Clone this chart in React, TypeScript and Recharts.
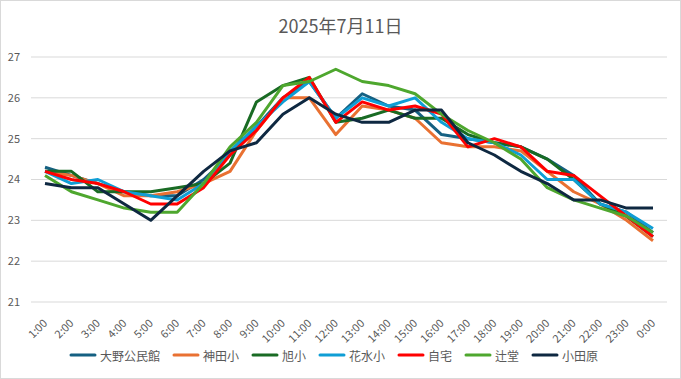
import React from 'react';
import { LineChart, Line, XAxis, YAxis, CartesianGrid, Legend } from 'recharts';

const hours = ['1:00','2:00','3:00','4:00','5:00','6:00','7:00','8:00','9:00','10:00','11:00','12:00','13:00','14:00','15:00','16:00','17:00','18:00','19:00','20:00','21:00','22:00','23:00','0:00'];

const ono = [24.3, 24.1, 23.9, 23.7, 23.6, 23.6, 24.0, 24.6, 25.3, 26.0, 26.4, 25.5, 26.1, 25.8, 25.7, 25.1, 25.0, 24.9, 24.8, 24.5, 24.1, 23.4, 23.2, 22.7];
const kanda = [24.2, 24.1, 23.9, 23.6, 23.6, 23.7, 23.9, 24.2, 25.2, 26.0, 26.0, 25.1, 25.8, 25.7, 25.5, 24.9, 24.8, 24.8, 24.7, 24.2, 23.7, 23.4, 23.0, 22.5];
const asahi = [24.2, 24.2, 23.7, 23.7, 23.7, 23.8, 23.9, 24.4, 25.9, 26.3, 26.5, 25.4, 25.5, 25.7, 25.5, 25.5, 25.1, 24.9, 24.8, 24.5, 24.0, 23.4, 23.1, 22.6];
const hanamizu = [24.2, 23.9, 24.0, 23.7, 23.6, 23.5, 23.9, 24.7, 25.3, 25.9, 26.4, 25.5, 26.0, 25.8, 26.0, 25.4, 25.0, 24.9, 24.6, 24.0, 24.0, 23.4, 23.2, 22.8];
const jitaku = [24.2, 24.0, 23.9, 23.7, 23.4, 23.4, 23.8, 24.6, 25.2, 26.0, 26.5, 25.4, 25.9, 25.7, 25.8, 25.6, 24.8, 25.0, 24.8, 24.2, 24.1, 23.6, 23.1, 22.6];
const tsujido = [24.1, 23.7, 23.5, 23.3, 23.2, 23.2, 23.9, 24.8, 25.4, 26.3, 26.4, 26.7, 26.4, 26.3, 26.1, 25.6, 25.2, 24.9, 24.5, 23.8, 23.5, 23.3, 23.1, 22.7];
const odawara = [23.9, 23.8, 23.8, 23.4, 23.0, 23.6, 24.2, 24.7, 24.9, 25.6, 26.0, 25.6, 25.4, 25.4, 25.7, 25.7, 24.9, 24.6, 24.2, 23.9, 23.5, 23.5, 23.3, 23.3];

const yTicks = [21, 22, 23, 24, 25, 26, 27];

const seriesNames = ['大野公民館', '神田小', '旭小', '花水小', '自宅', '辻堂', '小田原'];
const seriesColors = ['#156082', '#E97132', '#196B24', '#0F9ED5', '#FF0000', '#4EA72E', '#0E2841'];
const seriesValues = [ono, kanda, asahi, hanamizu, jitaku, tsujido, odawara];
const seriesKeys = ['s0', 's1', 's2', 's3', 's4', 's5', 's6'];

const data = hours.map((h, i) => {
  const row: any = { hour: h };
  seriesKeys.forEach((k, j) => { row[k] = seriesValues[j][i]; });
  return row;
});

const FONT = '"Noto Sans CJK JP", "Noto Sans", sans-serif';

const XTick = (props: any) => {
  const { x, y, payload } = props;
  return (
    <text
      x={x + 3}
      y={y + 14}
      transform={`rotate(-45, ${x + 3}, ${y + 14})`}
      textAnchor="end"
      fontSize={11}
      fill="#595959"
      fontFamily={FONT}
    >
      {payload.value}
    </text>
  );
};

const LegendContent = () => (
  <div style={{ display: 'flex', justifyContent: 'center', alignItems: 'center', height: 20, fontFamily: FONT, fontSize: 12, color: '#595959' }}>
    {seriesNames.map((n, i) => (
      <div key={n} style={{ display: 'flex', alignItems: 'center', margin: '0 6px' }}>
        <svg width={28} height={6} style={{ marginRight: 3 }}>
          <line x1={2} y1={3} x2={26} y2={3} stroke={seriesColors[i]} strokeWidth={3} strokeLinecap="round" />
        </svg>
        <span>{n}</span>
      </div>
    ))}
  </div>
);

export default function App() {
  return (
    <div style={{ position: 'fixed', left: 0, top: 0, width: 681, height: 379, background: '#fff' }}>
      <div style={{ position: 'absolute', left: 0, top: 12, width: 681, textAlign: 'center', fontFamily: FONT, fontSize: 18, color: '#595959', lineHeight: '26px' }}>
        2025年7月11日
      </div>
      <LineChart width={681} height={379} data={data} margin={{ top: 57, right: 14, left: 0, bottom: 14 }}>
        <CartesianGrid horizontal vertical={false} stroke="#D9D9D9" strokeWidth={1} />
        <XAxis
          dataKey="hour"
          interval={0}
          axisLine={false}
          tickLine={false}
          padding={{ left: 14, right: 14 }}
          height={43}
          tick={<XTick />}
        />
        <YAxis
          domain={[21, 27]}
          ticks={yTicks}
          width={31}
          axisLine={false}
          tickLine={false}
          tickSize={0}
          tickMargin={11}
          tick={{ fontSize: 11, fill: '#595959', fontFamily: FONT }}
        />
        <Legend verticalAlign="bottom" height={20} content={<LegendContent />} />
        {seriesKeys.map((k, i) => (
          <Line
            key={k}
            type="linear"
            dataKey={k}
            name={seriesNames[i]}
            stroke={seriesColors[i]}
            strokeWidth={3}
            dot={false}
            activeDot={false}
            strokeLinejoin="round"
            isAnimationActive={false}
          />
        ))}
      </LineChart>
      <div style={{ position: 'absolute', left: 0, top: 0, width: 681, height: 379, boxSizing: 'border-box', border: '1px solid #D9D9D9', pointerEvents: 'none' }} />
    </div>
  );
}
